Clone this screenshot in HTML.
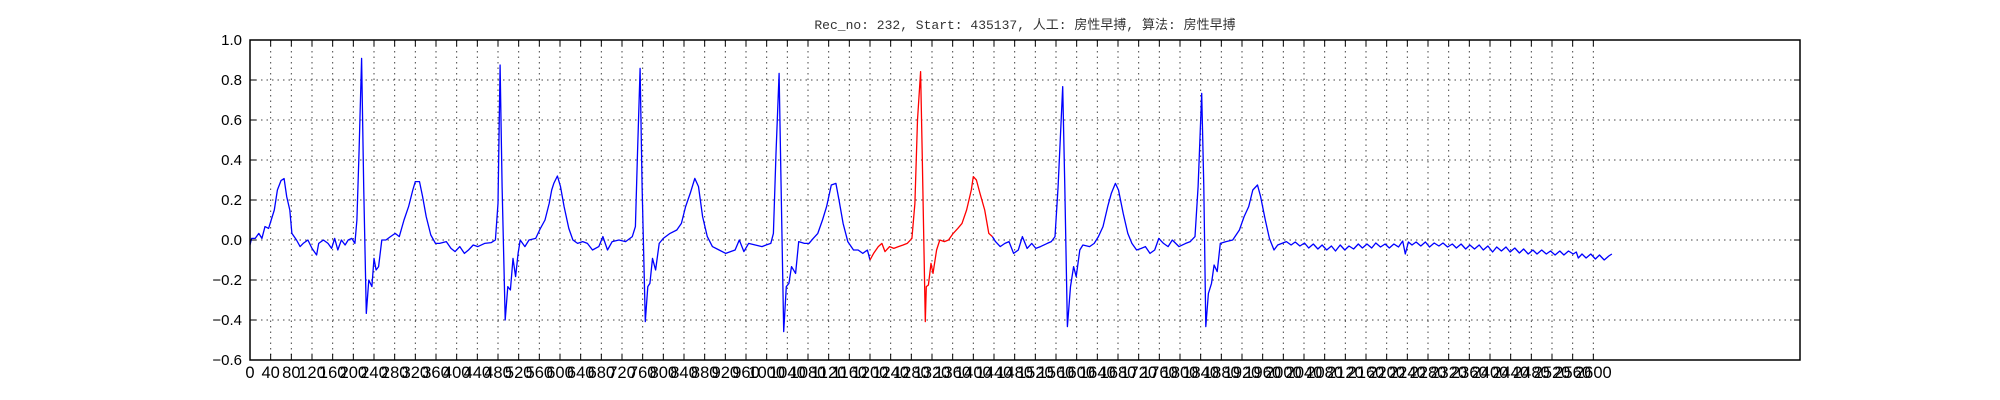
<!DOCTYPE html>
<html><head><meta charset="utf-8"><style>
html,body{margin:0;padding:0;background:#fff;}
svg{display:block;}
</style></head><body>
<svg id="chart" width="2000" height="400" xmlns="http://www.w3.org/2000/svg">
<rect x="0" y="0" width="2000" height="400" fill="#fff"/>
<text x="1025" y="29" text-anchor="middle" font-family="'Liberation Mono','Noto Sans CJK SC',monospace" font-size="13" fill="#333">Rec_no: 232, Start: 435137, 人工: 房性早搏, 算法: 房性早搏</text>
<g id="grid"></g>
<g id="series"></g>
<rect x="250" y="40" width="1550" height="320" fill="none" stroke="#000" stroke-width="1.5"/>
<g id="ticks"></g>
</svg>
<script>
const xs = [0,3,10,17,23,29,36,41,47,53,60,66,71,77,81,90,97,103,112,120,129,133,142,151,158,164,170,177,184,190,197,203,207,211,216,220,225,230,236,240,244,249,255,263,272,281,289,298,307,315,320,328,334,341,350,359,367,380,389,397,406,415,423,432,441,454,467,475,480,484,488,494,499,504,509,514,519,523,532,540,553,562,571,579,584,588,595,601,608,617,625,634,644,653,663,675,683,692,701,714,727,740,746,750,755,759,765,770,774,779,785,792,800,813,826,835,843,852,861,868,876,885,895,908,921,930,939,947,956,965,978,991,999,1008,1013,1018,1024,1028,1033,1038,1043,1048,1056,1062,1073,1082,1090,1099,1108,1116,1125,1134,1140,1148,1157,1168,1177,1186,1195,1200,1207,1216,1223,1229,1238,1246,1255,1264,1272,1281,1287,1292,1298,1301,1307,1309,1313,1318,1322,1329,1335,1344,1352,1361,1370,1378,1387,1396,1400,1406,1413,1422,1430,1437,1443,1452,1461,1469,1478,1487,1495,1504,1513,1521,1530,1543,1551,1558,1564,1573,1577,1582,1588,1594,1599,1606,1612,1625,1634,1642,1651,1660,1667,1675,1681,1690,1699,1707,1716,1725,1733,1742,1751,1759,1768,1777,1785,1798,1811,1820,1829,1835,1842,1846,1850,1855,1861,1866,1872,1878,1889,1902,1915,1924,1933,1941,1950,1956,1965,1973,1982,1989,2006,2015,2023,2032,2041,2049,2058,2067,2075,2084,2093,2101,2110,2119,2127,2136,2145,2153,2162,2171,2179,2188,2197,2205,2214,2223,2231,2236,2242,2249,2257,2266,2275,2283,2292,2301,2309,2318,2327,2335,2344,2353,2361,2370,2379,2387,2396,2405,2413,2422,2431,2439,2448,2457,2465,2474,2483,2491,2500,2509,2517,2526,2535,2543,2552,2561,2567,2571,2578,2586,2595,2604,2612,2621,2630,2636];
const vals = [-0.025,0.008,0.008,0.033,0.008,0.067,0.058,0.1,0.15,0.25,0.297,0.307,0.217,0.15,0.033,0,-0.033,-0.017,0,-0.042,-0.075,-0.017,0,-0.017,-0.042,0.008,-0.05,0,-0.025,0,0.008,-0.017,0.1,0.433,0.908,0.267,-0.367,-0.2,-0.233,-0.092,-0.15,-0.133,0,0,0.017,0.033,0.017,0.1,0.167,0.25,0.292,0.292,0.217,0.117,0.025,-0.017,-0.017,-0.008,-0.042,-0.058,-0.033,-0.067,-0.05,-0.025,-0.033,-0.017,-0.013,0,0.183,0.875,0.267,-0.4,-0.233,-0.25,-0.092,-0.183,-0.067,0,-0.033,0,0.008,0.058,0.1,0.183,0.25,0.283,0.32,0.267,0.167,0.058,0,-0.017,-0.008,-0.017,-0.05,-0.033,0.017,-0.05,-0.008,0,-0.008,0.017,0.067,0.433,0.858,0.267,-0.408,-0.233,-0.217,-0.092,-0.15,-0.017,0.008,0.033,0.05,0.083,0.167,0.233,0.308,0.267,0.117,0.017,-0.033,-0.05,-0.067,-0.058,-0.05,0,-0.058,-0.017,-0.025,-0.033,-0.025,-0.017,0.033,0.433,0.833,0.267,-0.458,-0.233,-0.217,-0.133,-0.167,-0.008,-0.017,-0.017,0.008,0.033,0.1,0.167,0.275,0.283,0.2,0.083,-0.008,-0.05,-0.05,-0.067,-0.05,-0.1,-0.067,-0.033,-0.017,-0.058,-0.033,-0.042,-0.033,-0.025,-0.017,0.008,0.183,0.6,0.842,0.433,-0.408,-0.233,-0.225,-0.117,-0.167,-0.05,0,-0.008,0,0.033,0.058,0.083,0.15,0.25,0.317,0.3,0.233,0.15,0.033,0.017,-0.008,-0.033,-0.017,-0.008,-0.067,-0.05,0.017,-0.042,-0.017,-0.042,-0.033,-0.017,-0.008,0.017,0.267,0.767,0.267,-0.433,-0.233,-0.133,-0.183,-0.05,-0.025,-0.033,-0.017,0.017,0.067,0.167,0.233,0.283,0.25,0.133,0.033,-0.017,-0.05,-0.042,-0.033,-0.067,-0.05,0.008,-0.017,-0.033,0,-0.033,-0.017,-0.008,0.017,0.267,0.733,0.267,-0.433,-0.267,-0.217,-0.125,-0.158,-0.017,-0.008,0,0.05,0.117,0.167,0.25,0.275,0.217,0.1,0.008,-0.05,-0.025,-0.008,-0.025,-0.01,-0.03,-0.015,-0.04,-0.02,-0.045,-0.025,-0.05,-0.03,-0.055,-0.025,-0.05,-0.03,-0.045,-0.02,-0.04,-0.02,-0.04,-0.015,-0.035,-0.02,-0.04,-0.02,-0.035,-0.005,-0.07,-0.01,-0.025,-0.01,-0.03,-0.01,-0.035,-0.015,-0.03,-0.015,-0.035,-0.02,-0.04,-0.02,-0.045,-0.025,-0.045,-0.025,-0.05,-0.03,-0.06,-0.035,-0.055,-0.035,-0.06,-0.04,-0.065,-0.045,-0.07,-0.05,-0.07,-0.05,-0.07,-0.055,-0.075,-0.055,-0.075,-0.055,-0.07,-0.06,-0.09,-0.07,-0.09,-0.07,-0.095,-0.075,-0.1,-0.08,-0.07];
const redRange = [1200, 1437];
const yTicks = [1.0,0.8,0.6,0.4,0.2,0.0,-0.2,-0.4,-0.6];
const yTickLabels = ["1.0","0.8","0.6","0.4","0.2","0.0","\u22120.2","\u22120.4","\u22120.6"];
const xTickStep = 40;
const xTickMax = 2600;
const xDomain = [0, 3000];
const yDomain = [-0.6, 1.0];

const L=250,R=1800,T=40,B=360;
const NS='http://www.w3.org/2000/svg';
function sx(u){return L+(u-xDomain[0])/(xDomain[1]-xDomain[0])*(R-L);}
function sy(v){return B-(v-yDomain[0])/(yDomain[1]-yDomain[0])*(B-T);}
function mk(tag,attrs,parent){const e=document.createElementNS(NS,tag);for(const k in attrs)e.setAttribute(k,attrs[k]);parent.appendChild(e);return e;}
const grid=document.getElementById('grid'),ticks=document.getElementById('ticks'),series=document.getElementById('series');
yTicks.forEach((v,i)=>{
  const y=sy(v);
  const g=mk('line',{x1:L,x2:R,y1:y,y2:y,stroke:'#444','stroke-width':1,'stroke-dasharray':'1.5,4'},grid);
  
  
  const t1=mk('line',{x1:L,x2:L+6,y1:y,y2:y,stroke:'#000','stroke-width':1},ticks);
  
  
  const t2=mk('line',{x1:R-6,x2:R,y1:y,y2:y,stroke:'#000','stroke-width':1},ticks);
  
  
  const tx=mk('text',{x:L-8,y:y+5,'text-anchor':'end','font-family':"'Liberation Sans','DejaVu Sans',sans-serif",'font-size':15,fill:'#000'},ticks);
  tx.textContent=yTickLabels[i];
  
  
});
for(let u=0;u<=xTickMax;u+=xTickStep){
  const x=sx(u);
  const g=mk('line',{x1:x,x2:x,y1:T,y2:B,stroke:'#444','stroke-width':1,'stroke-dasharray':'1.5,4'},grid);
  
  
  const t1=mk('line',{x1:x,x2:x,y1:B-6,y2:B,stroke:'#000','stroke-width':1},ticks);
  
  
  const t2=mk('line',{x1:x,x2:x,y1:T,y2:T+6,stroke:'#000','stroke-width':1},ticks);
  
  
  const tx=mk('text',{x:x,y:B+18,'text-anchor':'middle','font-family':"'Liberation Sans','DejaVu Sans',sans-serif",'font-size':16.5,fill:'#000'},ticks);
  tx.textContent=String(u);
  
  
}
function seg(filter,color,name){
  const pts=[];
  for(let i=0;i<xs.length;i++){if(filter(xs[i]))pts.push(sx(xs[i]).toFixed(1)+','+sy(vals[i]).toFixed(1));}
  const p=mk('polyline',{points:pts.join(' '),fill:'none',stroke:color,'stroke-width':1.3,'stroke-linejoin':'round'},series);
  
  
}
seg(u=>u<=redRange[0],'#0000ff','ecg-line-before');
seg(u=>u>=redRange[0]&&u<=redRange[1],'#ff0000','ecg-line-premature-beat');
seg(u=>u>=redRange[1],'#0000ff','ecg-line-after');
</script>
</body></html>
